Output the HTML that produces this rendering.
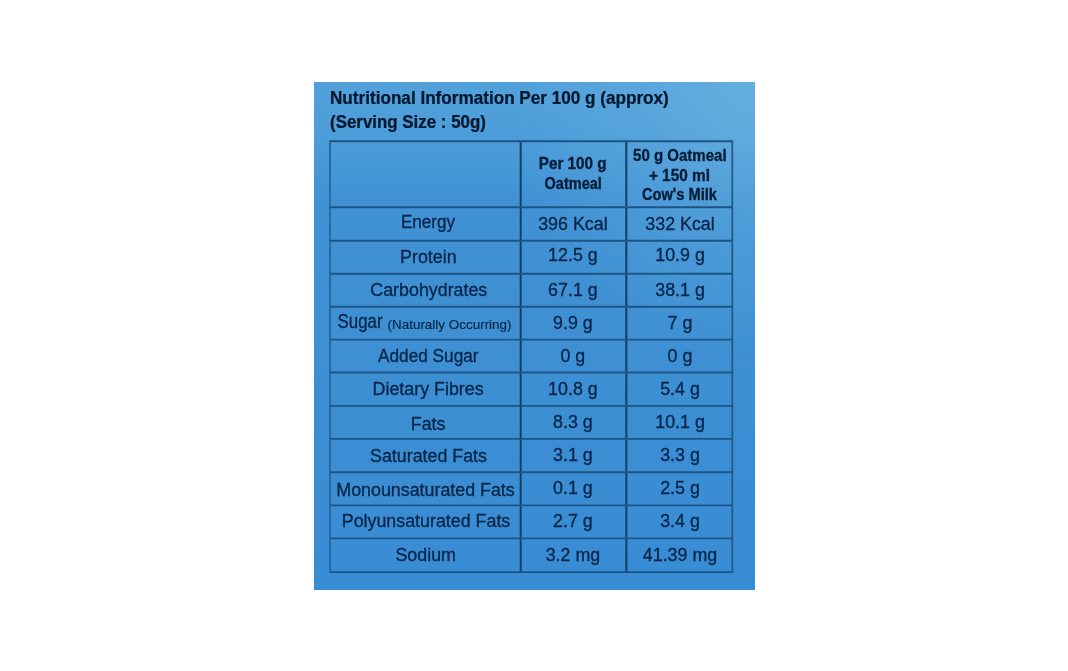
<!DOCTYPE html>
<html><head><meta charset="utf-8"><style>
html,body{margin:0;padding:0;background:#fff;width:1068px;height:671px;overflow:hidden;}
svg{position:absolute;left:0;top:0;}
text{font-family:"Liberation Sans",sans-serif;fill:#082446;stroke:#082446;stroke-width:0.3;}
.t{font-size:17.6px;font-weight:bold;fill:#05162c;stroke:#05162c;stroke-width:0.25;}
.h{font-size:16px;font-weight:bold;fill:#071c36;stroke:#071c36;stroke-width:0.3;}
.b{font-size:18.5px;}
.s{font-size:13.6px;stroke-width:0.15;}
line{stroke:#1e5484;stroke-width:1.9;}
line.l{stroke:#276399;stroke-width:1.7;}
line.d{stroke:#123f63;stroke-width:2;}
line.r{stroke:#225a8a;stroke-width:1.8;}
</style></head><body>
<svg width="1068" height="671" viewBox="0 0 1068 671">
<defs>
<linearGradient id="bg" x1="0" y1="0" x2="0" y2="1">
<stop offset="0" stop-color="#52a1db"/>
<stop offset="0.114" stop-color="#4c9cd9"/>
<stop offset="0.23" stop-color="#4192d4"/>
<stop offset="0.6" stop-color="#3d8fd3"/>
<stop offset="1" stop-color="#388cd4"/>
</linearGradient>
<radialGradient id="hl" cx="1" cy="0" r="0.55">
<stop offset="0" stop-color="#68b0e0" stop-opacity="0.85"/>
<stop offset="0.5" stop-color="#68b0e0" stop-opacity="0.35"/>
<stop offset="1" stop-color="#68b0e0" stop-opacity="0"/>
</radialGradient>
<filter id="sf" x="-5%" y="-5%" width="110%" height="110%"><feGaussianBlur stdDeviation="0.3"/></filter>
</defs>
<rect x="314" y="82" width="441" height="508" fill="url(#bg)"/>
<rect x="314" y="82" width="441" height="508" fill="url(#hl)"/>
<g filter="url(#sf)">
<line x1="330" y1="140.29999999999998" x2="330" y2="573.0" class="l"/><line x1="520.7" y1="141.2" x2="520.7" y2="572.1" class="d"/><line x1="626.3" y1="141.2" x2="626.3" y2="572.1" class="d"/><line x1="732.3" y1="140.29999999999998" x2="732.3" y2="573.0" class="r"/><line x1="330" y1="141.2" x2="732.3" y2="141.2" /><line x1="330" y1="207.2" x2="732.3" y2="207.2" /><line x1="330" y1="240.8" x2="732.3" y2="240.8" /><line x1="330" y1="273.7" x2="732.3" y2="273.7" /><line x1="330" y1="306.8" x2="732.3" y2="306.8" /><line x1="330" y1="339.6" x2="732.3" y2="339.6" /><line x1="330" y1="372.5" x2="732.3" y2="372.5" /><line x1="330" y1="405.9" x2="732.3" y2="405.9" /><line x1="330" y1="438.9" x2="732.3" y2="438.9" /><line x1="330" y1="472.3" x2="732.3" y2="472.3" /><line x1="330" y1="505.4" x2="732.3" y2="505.4" /><line x1="330" y1="538.4" x2="732.3" y2="538.4" /><line x1="330" y1="572.1" x2="732.3" y2="572.1" />
<text transform="matrix(0.974 0 0 1 330.0 0)" x="0" y="103.8" class="t">Nutritional Information Per 100 g (approx)</text><text transform="matrix(0.961 0 0 1 330.0 0)" x="0" y="128.0" class="t">(Serving Size : 50g)</text><text transform="matrix(0.955 0 0 1 572.7 0)" x="0" y="168.8" class="h" text-anchor="middle">Per 100 g</text><text transform="matrix(0.91 0 0 1 573.2 0)" x="0" y="189.2" class="h" text-anchor="middle">Oatmeal</text><text transform="matrix(0.94 0 0 1 679.8 0)" x="0" y="161.4" class="h" text-anchor="middle">50 g Oatmeal</text><text transform="matrix(0.96 0 0 1 679.4 0)" x="0" y="180.9" class="h" text-anchor="middle">+ 150 ml</text><text transform="matrix(0.915 0 0 1 679.4 0)" x="0" y="200.2" class="h" text-anchor="middle">Cow's Milk</text><text transform="matrix(0.925 0 0 1 428.0 0)" x="0" y="228.4" class="b" text-anchor="middle">Energy</text><text transform="matrix(0.965 0 0 1 572.9 0)" x="0" y="230.5" class="b" text-anchor="middle">396 Kcal</text><text transform="matrix(0.965 0 0 1 680.0 0)" x="0" y="230.5" class="b" text-anchor="middle">332 Kcal</text><text transform="matrix(0.965 0 0 1 428.3 0)" x="0" y="263.4" class="b" text-anchor="middle">Protein</text><text transform="matrix(0.965 0 0 1 572.9 0)" x="0" y="261.5" class="b" text-anchor="middle">12.5 g</text><text transform="matrix(0.965 0 0 1 680.0 0)" x="0" y="261.5" class="b" text-anchor="middle">10.9 g</text><text transform="matrix(0.965 0 0 1 428.8 0)" x="0" y="296.5" class="b" text-anchor="middle">Carbohydrates</text><text transform="matrix(0.965 0 0 1 572.9 0)" x="0" y="296.5" class="b" text-anchor="middle">67.1 g</text><text transform="matrix(0.965 0 0 1 680.0 0)" x="0" y="296.5" class="b" text-anchor="middle">38.1 g</text><text transform="matrix(0.865 0 0 1 337.6 0)" x="0" y="328.4" class="b" style="font-size:19.5px">Sugar</text><text transform="matrix(0.99 0 0 1 387.5 0)" x="0" y="328.8" class="s" text-anchor="start">(Naturally Occurring)</text><text transform="matrix(0.965 0 0 1 572.9 0)" x="0" y="329.4" class="b" text-anchor="middle">9.9 g</text><text transform="matrix(0.965 0 0 1 680.0 0)" x="0" y="329.4" class="b" text-anchor="middle">7 g</text><text transform="matrix(0.932 0 0 1 428.3 0)" x="0" y="361.8" class="b" text-anchor="middle">Added Sugar</text><text transform="matrix(0.965 0 0 1 572.9 0)" x="0" y="361.9" class="b" text-anchor="middle">0 g</text><text transform="matrix(0.965 0 0 1 680.0 0)" x="0" y="361.9" class="b" text-anchor="middle">0 g</text><text transform="matrix(0.965 0 0 1 428.1 0)" x="0" y="395.4" class="b" text-anchor="middle">Dietary Fibres</text><text transform="matrix(0.965 0 0 1 572.9 0)" x="0" y="394.9" class="b" text-anchor="middle">10.8 g</text><text transform="matrix(0.965 0 0 1 680.0 0)" x="0" y="394.9" class="b" text-anchor="middle">5.4 g</text><text transform="matrix(0.965 0 0 1 428.1 0)" x="0" y="429.8" class="b" text-anchor="middle">Fats</text><text transform="matrix(0.965 0 0 1 572.9 0)" x="0" y="428.2" class="b" text-anchor="middle">8.3 g</text><text transform="matrix(0.965 0 0 1 680.0 0)" x="0" y="428.2" class="b" text-anchor="middle">10.1 g</text><text transform="matrix(0.965 0 0 1 428.5 0)" x="0" y="462.2" class="b" text-anchor="middle">Saturated Fats</text><text transform="matrix(0.965 0 0 1 572.9 0)" x="0" y="461.4" class="b" text-anchor="middle">3.1 g</text><text transform="matrix(0.965 0 0 1 680.0 0)" x="0" y="461.4" class="b" text-anchor="middle">3.3 g</text><text transform="matrix(0.965 0 0 1 425.5 0)" x="0" y="495.6" class="b" text-anchor="middle">Monounsaturated Fats</text><text transform="matrix(0.965 0 0 1 572.9 0)" x="0" y="494.3" class="b" text-anchor="middle">0.1 g</text><text transform="matrix(0.965 0 0 1 680.0 0)" x="0" y="494.3" class="b" text-anchor="middle">2.5 g</text><text transform="matrix(0.965 0 0 1 426.0 0)" x="0" y="527.5" class="b" text-anchor="middle">Polyunsaturated Fats</text><text transform="matrix(0.965 0 0 1 572.9 0)" x="0" y="527.0" class="b" text-anchor="middle">2.7 g</text><text transform="matrix(0.965 0 0 1 680.0 0)" x="0" y="527.0" class="b" text-anchor="middle">3.4 g</text><text transform="matrix(0.965 0 0 1 425.7 0)" x="0" y="561.2" class="b" text-anchor="middle">Sodium</text><text transform="matrix(0.965 0 0 1 572.9 0)" x="0" y="561.0" class="b" text-anchor="middle">3.2 mg</text><text transform="matrix(0.965 0 0 1 680.0 0)" x="0" y="561.0" class="b" text-anchor="middle">41.39 mg</text>
</g>
</svg>
</body></html>
